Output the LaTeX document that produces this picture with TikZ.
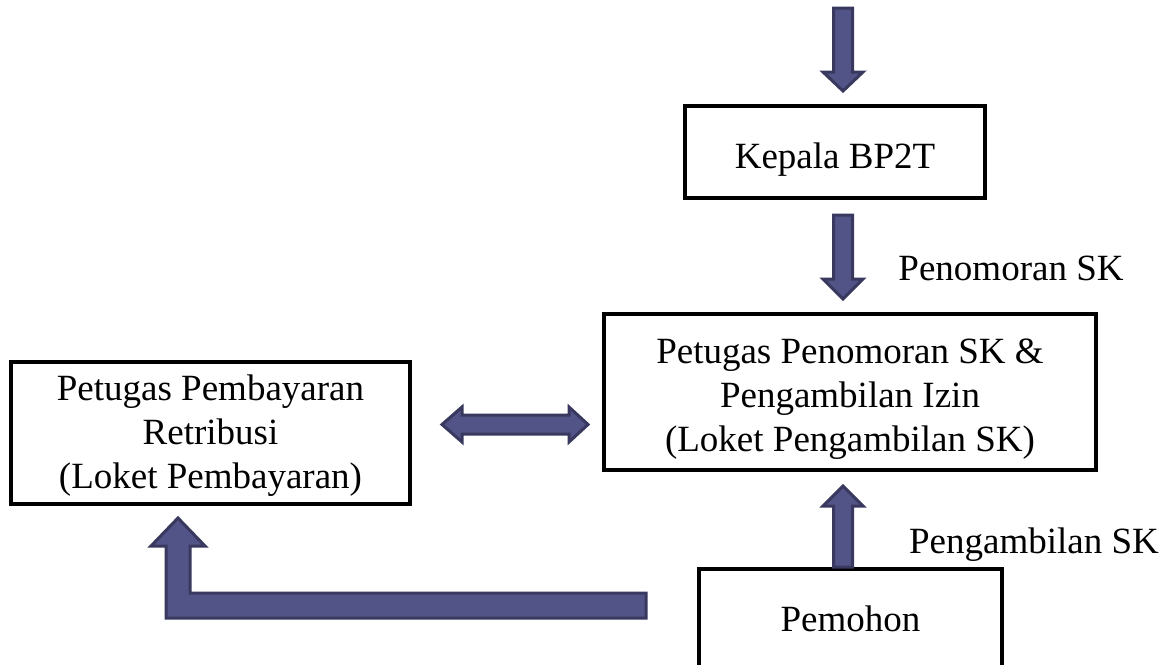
\documentclass[tikz,border=0pt]{standalone}
\usepackage{fontspec}
\setmainfont{Liberation Serif}
\usetikzlibrary{calc}
\definecolor{arrfill}{RGB}{82,84,135}
\definecolor{arrdraw}{RGB}{57,56,94}
\begin{document}
\begin{tikzpicture}[x=1pt,y=-1pt,
  box/.style={draw=black,line width=4pt,fill=white,rectangle,inner sep=0pt},
  txt/.style={font=\fontsize{37}{44}\selectfont,align=center,inner sep=0pt},
  blockarrow/.style={fill=arrfill,draw=arrdraw,line width=3pt,line join=miter}]
\useasboundingbox (0,0) rectangle (1169,664);
% boxes
\node[box,minimum width=300pt,minimum height=92pt] (kepala) at (835,152) {};
\node[box,minimum width=492pt,minimum height=156pt] (petugas) at (850,392) {};
\node[box,minimum width=399pt,minimum height=142pt] (bayar) at (210.5,433) {};
\node[box,minimum width=303pt,minimum height=130pt] (pemohon) at (850.5,634) {};
% texts
\node[txt,anchor=base] (kepalaT) at (835,168) {Kepala BP2T};
\node[txt] (petugasT) at (850,399) {Petugas Penomoran SK \&\\Pengambilan Izin\\(Loket Pengambilan SK)};
\node[txt] (bayarT) at (210.5,436) {Petugas Pembayaran\\Retribusi\\(Loket Pembayaran)};
\node[txt,anchor=base] (pemohonT) at (850.5,631) {Pemohon};
\node[txt,anchor=base] (lab1) at (1011,280) {Penomoran SK};
\node[txt,anchor=base] (lab2) at (1034,553) {Pengambilan SK};
% arrow coordinates
\coordinate (a1tip) at (843,91);
\coordinate (a2tip) at (843,299);
\coordinate (a3tip) at (843,486);
% top arrow into Kepala
\draw[blockarrow] ($(a1tip)+(-9.5,-83)$) -- ++(19,0) -- ++(0,64) -- ++(10.5,0) -- (a1tip) -- ++(-20,-19) -- ++(10.5,0) -- cycle;
% Kepala -> Petugas
\draw[blockarrow] (833.5,215) -- (852.5,215) -- (852.5,279) -- (863,279) -- (a2tip) -- (823,279) -- (833.5,279) -- cycle;
% Pemohon -> Petugas
\draw[blockarrow] (833.5,567) -- (833.5,506) -- (823,506) -- (a3tip) -- (863,506) -- (852.5,506) -- (852.5,567) -- cycle;
% double arrow
\coordinate (dl) at (442,424.5);
\coordinate (dr) at (588,424.5);
\draw[blockarrow] (dl) -- (462,407) -- (462,415) -- (569,415) -- (569,407) -- (dr) -- (569,442) -- (569,434) -- (462,434) -- (462,442) -- cycle;
% L arrow Pemohon -> Pembayaran
\coordinate (ltip) at (178,518);
\draw[blockarrow] (646,593) -- (190,593) -- (190,546) -- (205,546) -- (ltip) -- (151,546) -- (166,546) -- (166,618) -- (646,618) -- cycle;
\end{tikzpicture}
\end{document}
